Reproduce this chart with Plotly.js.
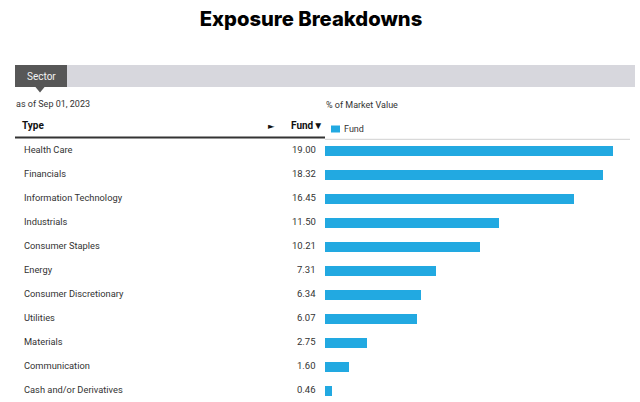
<!DOCTYPE html>
<html>
<head>
<meta charset="utf-8">
<script src="https://cdn.plot.ly/plotly-3.0.1.min.js"></script>
<style>
html,body{margin:0;padding:0;background:#fff;}
#chart{width:640px;height:402px;}
</style>
</head>
<body>
<div id="chart"></div>
<script>
// ---- data ----
var categories = ["Health Care","Financials","Information Technology","Industrials","Consumer Staples","Energy","Consumer Discretionary","Utilities","Materials","Communication","Cash and/or Derivatives"];
var fundValues = [19.00, 18.32, 16.45, 11.50, 10.21, 7.31, 6.34, 6.07, 2.75, 1.60, 0.46];
var valueLabels = ["19.00","18.32","16.45","11.50","10.21","7.31","6.34","6.07","2.75","1.60","0.46"];
var seriesName = "Fund";
var tabLabel = "Sector";
var asOfText = "as of Sep 01, 2023";
var axisLabel = "% of Market Value";

// ---- layout helpers (pixel -> paper) ----
var W = 640, H = 402;
var M = {l: 325, r: 10, t: 139, b: 0};
var PW = W - M.l - M.r, PH = H - M.t - M.b;
function px(x){ return (x - M.l) / PW; }
function py(y){ return (H - M.b - y) / PH; }

var barColor = "#22a9e1";
var font = "Roboto, 'Open Sans', sans-serif";

var trace = {
  type: "bar",
  orientation: "h",
  name: seriesName,
  x: fundValues,
  y: categories,
  width: 0.42,
  marker: {color: barColor, line: {width: 0}},
  hoverinfo: "x+y",
  showlegend: false
};

var annotations = [];
categories.forEach(function(c, i){
  annotations.push({xref:"paper", yref:"y", x:px(21.5), y:c, yshift:1.5, text:c, xanchor:"left", yanchor:"middle",
    showarrow:false, font:{family:font, size:9.3, color:"#333"}});
  annotations.push({xref:"paper", yref:"y", x:px(318), y:c, yshift:1.5, text:valueLabels[i], xanchor:"right", yanchor:"middle",
    showarrow:false, font:{family:font, size:9.5, color:"#333"}});
});
annotations.push({xref:"paper", yref:"paper", x:px(41), y:py(76), text:tabLabel, xanchor:"center", yanchor:"middle",
  showarrow:false, font:{family:font, size:10, color:"#f2f2f2"}});
annotations.push({xref:"paper", yref:"paper", x:px(14), y:py(104), text:asOfText, xanchor:"left", yanchor:"middle",
  showarrow:false, font:{family:font, size:9, color:"#333"}});
annotations.push({xref:"paper", yref:"paper", x:px(324), y:py(105), text:axisLabel, xanchor:"left", yanchor:"middle",
  showarrow:false, font:{family:font, size:9, color:"#333"}});
annotations.push({xref:"paper", yref:"paper", x:px(20), y:py(126), text:"<b>Type</b>", xanchor:"left", yanchor:"middle",
  showarrow:false, font:{family:font, size:10, color:"#111"}});
annotations.push({xref:"paper", yref:"paper", x:px(271.5), y:py(126), text:"►", xanchor:"center", yanchor:"middle",
  showarrow:false, font:{family:"DejaVu Sans", size:8.5, color:"#111"}});
annotations.push({xref:"paper", yref:"paper", x:px(325), y:py(126), text:"<b>Fund▼</b>", xanchor:"right", yanchor:"middle",
  showarrow:false, font:{family:font, size:10, color:"#111"}});
annotations.push({xref:"paper", yref:"paper", x:px(342), y:py(129), text:seriesName, xanchor:"left", yanchor:"middle",
  showarrow:false, font:{family:font, size:9, color:"#333"}});

var shapes = [
  // grey band
  {type:"rect", xref:"paper", yref:"paper", x0:px(15), x1:px(635), y0:py(87), y1:py(65), fillcolor:"#d7d7dd", line:{width:0}, layer:"below"},
  // dark tab
  {type:"rect", xref:"paper", yref:"paper", x0:px(15), x1:px(67), y0:py(87), y1:py(65), fillcolor:"#575757", line:{width:0}},
  // tab pointer
  {type:"path", xref:"paper", yref:"paper",
   path:"M "+px(35)+" "+py(86.5)+" L "+px(45)+" "+py(86.5)+" L "+px(40)+" "+py(92.5)+" Z",
   fillcolor:"#575757", line:{width:0}},
  // thick header rule
  {type:"line", xref:"paper", yref:"paper", x0:px(15), x1:px(325), y0:py(137.5), y1:py(137.5), line:{color:"#333", width:2.2}},
  // thin rule
  {type:"line", xref:"paper", yref:"paper", x0:px(325), x1:px(630), y0:py(139.3), y1:py(139.3), line:{color:"#d0d0d0", width:1}},
  // legend swatch
  {type:"rect", xref:"paper", yref:"paper", x0:px(331), x1:px(340), y0:py(132.5), y1:py(125.5), fillcolor:barColor, line:{width:0}}
];

var layout = {
  width: W, height: H,
  margin: M,
  paper_bgcolor: "#fff", plot_bgcolor: "#fff",
  title: {text:"Exposure Breakdowns", x: 311/W, xanchor:"center", y: 1 - 19/H, yanchor:"middle", yref:"container",
    font:{family:"Inter, Roboto, sans-serif", size:20.2, weight:800, color:"#000"}},
  xaxis: {range:[0, PW/15.16], visible:false, fixedrange:true},
  yaxis: {type:"category", range:[categories.length - 1 + 0.5 + (PH/24 - categories.length), -0.5], visible:false, fixedrange:true},
  showlegend: false,
  bargap: 0,
  annotations: annotations,
  shapes: shapes
};

Plotly.newPlot("chart", [trace], layout, {displayModeBar:false, staticPlot:true});
</script>
</body>
</html>
